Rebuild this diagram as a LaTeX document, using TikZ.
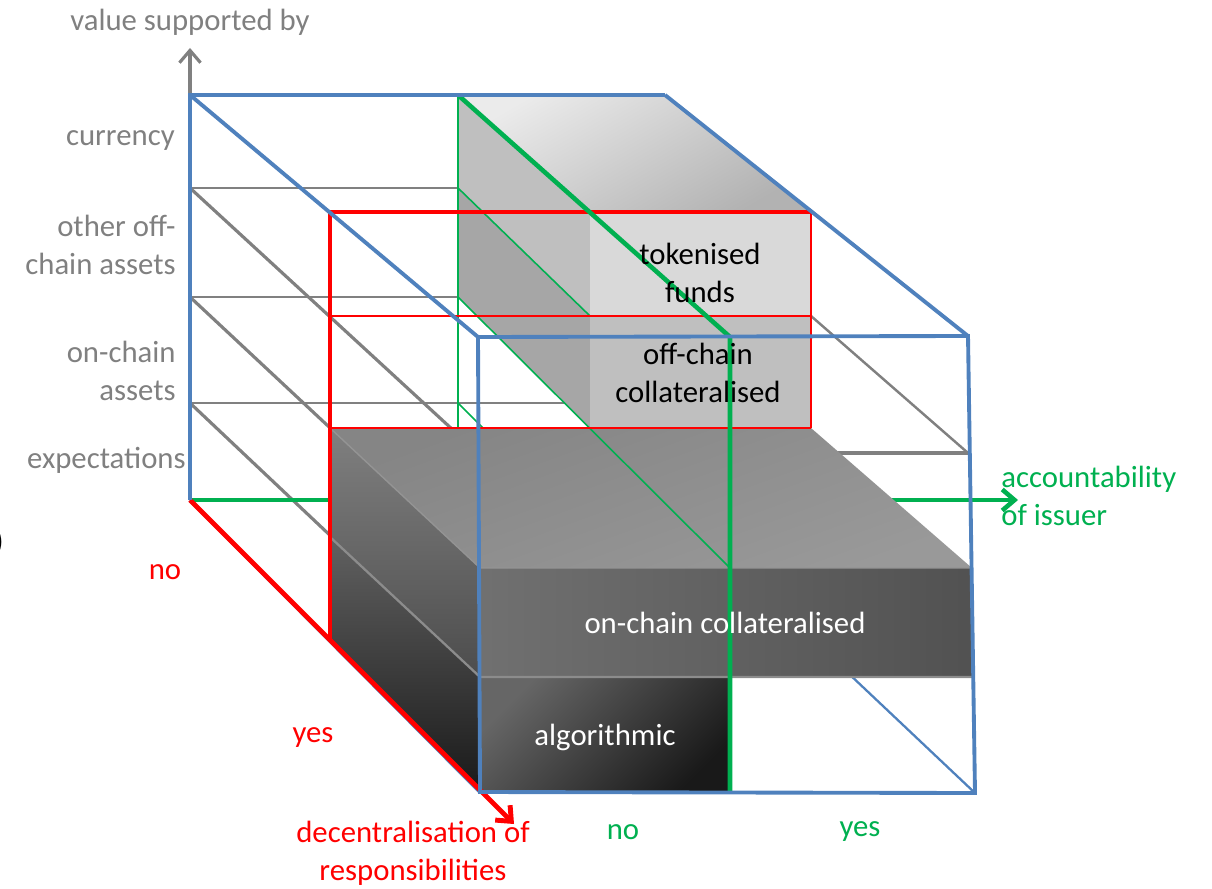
\documentclass[tikz,border=0pt]{standalone}
\usepackage{fontspec}
\setmainfont{Carlito}
\usetikzlibrary{arrows.meta}

\definecolor{cubeblue}{RGB}{79,129,189}
\definecolor{axisred}{RGB}{255,0,0}
\definecolor{axisgreen}{RGB}{0,176,80}
\definecolor{gridgray}{RGB}{128,128,128}

\begin{document}
\begin{tikzpicture}[x=0.02cm, y=-0.02cm,
    every node/.style={font=\fontsize{17.5pt}{21.5pt}\selectfont, inner sep=0pt},
    grid/.style={gridgray, line width=1.4pt},
    griddiag/.style={gridgray, line width=1.8pt},
    edge/.style={cubeblue, line width=2.2pt},
    thinedge/.style={cubeblue, line width=1.3pt},
    redthick/.style={axisred, line width=2.8pt},
    redthin/.style={axisred, line width=1pt},
    greenthick/.style={axisgreen, line width=2.6pt},
    greenthin/.style={axisgreen, line width=0.9pt},
    barb/.style={-{Straight Barb[length=7pt, width=12pt]}},
    axislabel/.style={gridgray, align=right, anchor=east}]
    \useasboundingbox (0,0) rectangle (1212,888);

    % Corners of the cube: back face, red plane, front face
    \coordinate (bTL) at (190,95);
    \coordinate (bTM) at (458,95);
    \coordinate (bTR) at (665,95);
    \coordinate (bBL) at (190,500);
    \coordinate (bBR) at (665,500);
    \coordinate (b1L) at (190,188);
    \coordinate (b1R) at (665,188);
    \coordinate (b2L) at (190,297);
    \coordinate (b2R) at (665,297);
    \coordinate (b3L) at (190,403);
    \coordinate (b3R) at (665,403);
    \coordinate (bM1) at (458,188);
    \coordinate (bM2) at (458,297);
    \coordinate (bM3) at (458,403);
    \coordinate (bM4) at (458,428);
    \coordinate (rTL) at (330,212);
    \coordinate (rTM) at (590,212);
    \coordinate (rTR) at (811,212);
    \coordinate (r1L) at (330,316);
    \coordinate (r1M) at (590,316);
    \coordinate (r1R) at (811,316);
    \coordinate (r2L) at (330,428);
    \coordinate (r2M) at (590,428);
    \coordinate (r2R) at (811,428);
    \coordinate (r3L) at (330,537);
    \coordinate (rBL) at (330,639);
    \coordinate (fTL) at (478,337);
    \coordinate (fTM) at (730,337);
    \coordinate (fTR) at (968,336);
    \coordinate (f1L) at (478,453);
    \coordinate (f1R) at (968,453);
    \coordinate (f2L) at (480,568);
    \coordinate (f2M) at (730,568);
    \coordinate (f2R) at (972,568);
    \coordinate (f3L) at (480,677);
    \coordinate (f3M) at (730,677);
    \coordinate (f3R) at (972,677);
    \coordinate (fBL) at (480,792);
    \coordinate (fBM) at (730,793);
    \coordinate (fBR) at (975,793);
    \coordinate (g3end) at (485,430);
    \coordinate (ytip) at (190,48);
    \coordinate (xtip) at (1018,500);
    \coordinate (ztip) at (514,824);

    % Grid lines
    \draw[grid] (b1L) -- (b1R);
    \draw[grid] (b2L) -- (b2R);
    \draw[grid] (b3L) -- (b3R);
    \draw[griddiag] (b1L) -- (f1L);
    \draw[griddiag] (b2L) -- (f2L);
    \draw[griddiag] (b3L) -- (f3L);
    \draw[grid] (r1R) -- (f1R);
    \draw[griddiag] (f1R) -- (f1L);
    \draw[griddiag, barb] (bBL) -- (ytip);

    % Hidden back edges and the issuer axis
    \draw[edge] (bBL) -- (bBR) -- (bTR);
    \draw[thinedge] (bBR) -- (fBR);
    \draw[greenthick, barb] (bBL) -- (xtip);

    % Off-chain block
    \shade[top color=black!8, bottom color=black!30, shading angle=30]
        (bTM) -- (bTR) -- (rTR) -- (rTM) -- cycle;
    \fill[black!25] (bTM) -- (rTM) -- (r1M) -- (bM1) -- cycle;
    \fill[black!35] (bM1) -- (r1M) -- (r2M) -- (bM2) -- cycle;
    \fill[black!15] (rTM) -- (rTR) -- (r1R) -- (r1M) -- cycle;
    \fill[black!25] (r1M) -- (r1R) -- (r2R) -- (r2M) -- cycle;
    \draw[greenthin] (bTM) -- (bM4);
    \draw[greenthin] (bM1) -- (r1M);
    \draw[greenthin] (bM3) -- (g3end);

    % On-chain slab and algorithmic block
    \shade[top color=black!48, bottom color=black!40, shading angle=20]
        (r2L) -- (r2R) -- (f2R) -- (f2L) -- cycle;
    \shade[left color=black!56, right color=black!68]
        (f2L) -- (f2R) -- (f3R) -- (f3L) -- cycle;
    \shade[top color=black!50, bottom color=black!70]
        (r2L) -- (f2L) -- (f3L) -- (r3L) -- cycle;
    \shade[top color=black!60, bottom color=black!90, shading angle=45]
        (f3L) -- (f3M) -- (fBM) -- (fBL) -- cycle;
    \shade[top color=black!62, bottom color=black!90]
        (r3L) -- (f3L) -- (fBL) -- (rBL) -- cycle;
    \draw[black!42, line width=0.8pt] (r2L) -- (f2L) -- (f2R);
    \draw[black!45, line width=1.3pt] (r3L) -- (f3L) -- (f3R);
    \draw[greenthin] (bM2) -- (f2M);

    % Red plane
    \draw[redthin] (r1L) -- (r1R);
    \draw[redthin] (r2L) -- (r2R);
    \draw[redthin] (rTR) -- (r2R);
    \draw[redthick] (rBL) -- (rTL) -- (rTR);
    \draw[edge] (bBL) -- (fBL);
    \draw[redthick, barb] (bBL) -- (ztip);

    % Green plane
    \draw[greenthick] (bTM) -- (fTM) -- (fBM);

    % Cube outline
    \draw[edge] (bBL) -- (bTL) -- (bTR);
    \draw[edge] (bTL) -- (fTL);
    \draw[edge] (bTR) -- (fTR);
    \draw[edge] (fTL) -- (fTR) -- (fBR) -- (fBL) -- cycle;

    % Labels
    \node[gridgray] (vlabel) at (190,22) {value supported by};
    \node[axislabel] (currency) at (175,141) {currency};
    \node[axislabel] (offchain) at (176,245) {other off-\\chain assets};
    \node[axislabel] (onchain) at (176,371) {on-chain\\assets};
    \node[axislabel] (expect) at (186,460) {expectations};
    \node[axisred] (rno) at (165,572) {no};
    \node[axisred] (ryes) at (313,738) {yes};
    \node[axisred, align=center] (rlabel) at (413,853) {decentralisation of\\responsibilities};
    \node[axisgreen] (gno) at (623,832) {no};
    \node[axisgreen] (gyes) at (860,832) {yes};
    \node[axisgreen, align=left, anchor=west] (glabel) at (1001,496) {accountability\\of issuer};
    \node[align=center] (tfunds) at (700,273) {tokenised\\funds};
    \node[align=center] (offcoll) at (698,373) {off-chain\\collateralised};
    \node[white] (oncoll) at (725,623) {on-chain collateralised};
    \node[white] (algo) at (605,737) {algorithmic};
    \node[anchor=east] (paren) at (4,542) {)};
\end{tikzpicture}
\end{document}
